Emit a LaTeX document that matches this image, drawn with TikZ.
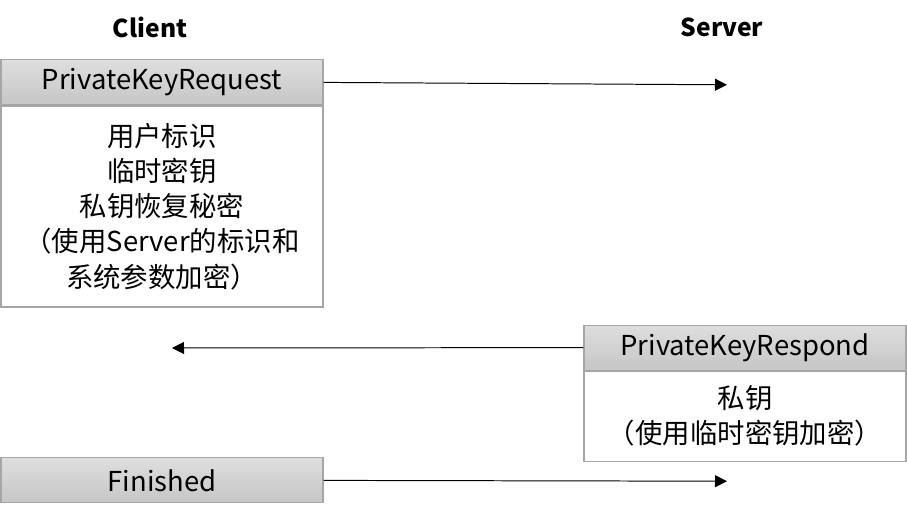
\documentclass[tikz,border=0pt]{standalone}
\usepackage{fontspec}
\setmainfont{Noto Sans CJK SC}
\usetikzlibrary{arrows.meta, positioning}
\definecolor{msgedge}{HTML}{A6A6A6}
\definecolor{msgtop}{HTML}{DEDEDE}
\definecolor{msgbot}{HTML}{C6C6C6}

\begin{document}
\begin{tikzpicture}[font=\fontsize{19.5}{25}\selectfont,
      head/.style={draw=msgedge, line width=0.8pt, top color=msgtop, bottom color=msgbot,
                   minimum width=8.05cm, minimum height=1.125cm, inner sep=0pt},
      body/.style={draw=msgedge, line width=0.8pt, fill=white, align=center,
                   minimum width=8.05cm, inner sep=0pt},
      msg/.style={line width=0.7pt, -{Triangle[length=0.3cm, width=0.3cm]}}]
      \useasboundingbox (0,0) rectangle (22.675,-12.9);
      % parties
      \node[font=\fontsize{17.5}{25}\selectfont\bfseries] (client) at (3.75,-0.675) {Client};
      \node[font=\fontsize{17.5}{25}\selectfont\bfseries] (server) at (18.05,-0.675) {Server};

      % request
      \node[head] (req) at (4.05,-2.06) {PrivateKeyRequest};
      \node[body, minimum height=5.025cm, anchor=north] (reqbody) at (req.south)
        {用户标识\\临时密钥\\私钥恢复秘密\\（使用Server的标识和\\系统参数加密）};

      % respond
      \node[head] (resp) at (18.625,-8.69) {PrivateKeyRespond};
      \node[body, minimum height=2.25cm, anchor=north] (respbody) at (resp.south)
        {私钥\\（使用临时密钥加密）};

      % finished
      \node[head] (fin) at (4.05,-12.01) {Finished};

      \coordinate (reqend) at (18.175,-2.12);
      \coordinate (respend) at (4.3,-8.7);
      \coordinate (finend) at (18.175,-12.03);

      \draw[msg] (req.east)--(reqend);
      \draw[msg] (resp.west)--(respend);
      \draw[msg] (fin.east)--(finend);
    \end{tikzpicture}
\end{document}
